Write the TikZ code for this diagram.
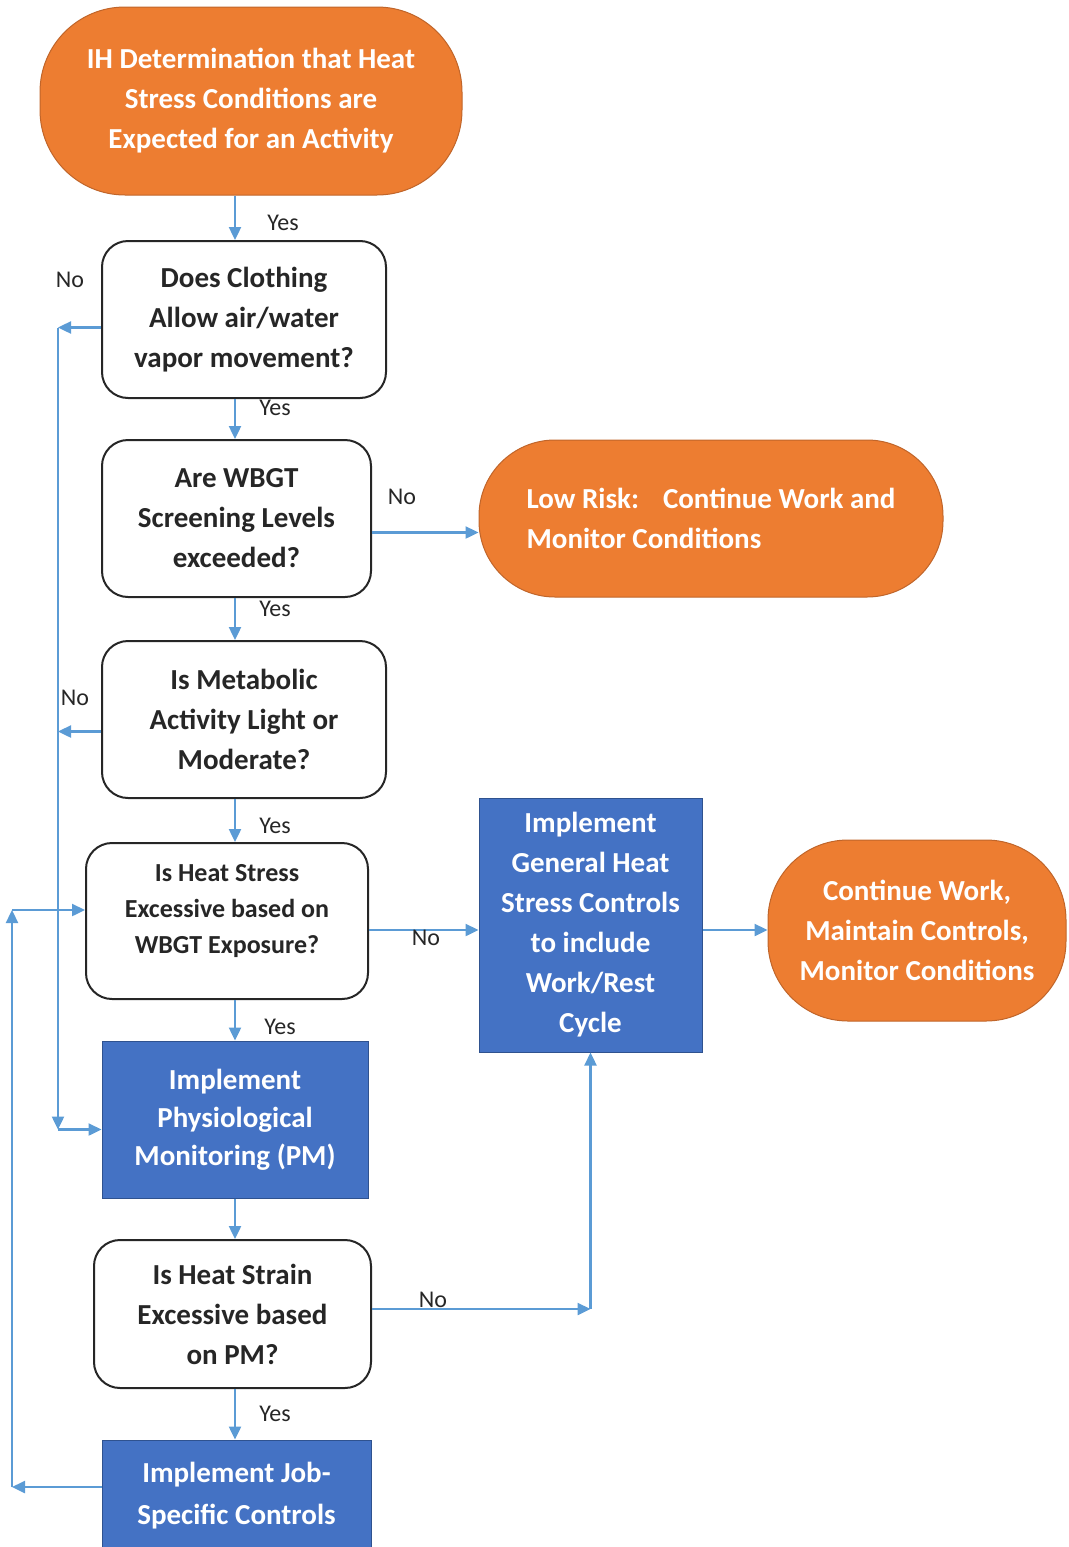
\documentclass[tikz,border=0pt]{standalone}
\usepackage{fontspec}
\setmainfont{Carlito}
\usetikzlibrary{positioning}
\usetikzlibrary{calc}
\usetikzlibrary{arrows.meta}

\definecolor{ihorange}{HTML}{ED7D31}
\definecolor{ihorangeline}{HTML}{C0652A}
\definecolor{ihblue}{HTML}{4472C4}
\definecolor{ihblueline}{HTML}{2F528F}
\definecolor{ihflow}{HTML}{5B9BD5}
\definecolor{ihtext}{HTML}{262626}

\tikzset{
    term/.style={draw=ihorangeline, fill=ihorange, text=white, line width=1pt, inner sep=0pt, align=center, font=\bfseries\fontsize{29}{40}\selectfont},
    decision/.style={draw=ihtext, fill=white, text=ihtext, line width=2pt, rounded corners=26pt, inner sep=0pt, align=center, font=\bfseries\fontsize{29}{40}\selectfont},
    process/.style={draw=ihblueline, fill=ihblue, text=white, line width=1pt, inner sep=0pt, align=center, font=\bfseries\fontsize{29}{40}\selectfont},
    flow/.style={draw=ihflow, line width=2.4pt, -{Triangle[length=13pt,width=12pt]}},
    lbl/.style={text=ihtext, inner sep=0pt, font=\fontsize{24}{28}\selectfont}
}

\begin{document}
\begin{tikzpicture}[x=1pt, y=-1pt]
    \useasboundingbox (0,0) rectangle (1068,1547);
    %Start
    \node[term, rounded corners=85pt, minimum width=422pt, minimum height=188pt] (start) at (251,101) {IH Determination that Heat\\Stress Conditions are\\Expected for an Activity};
    %Clothing
    \node[decision, minimum width=284pt, minimum height=157pt] (cloth) at (244,319.5) {Does Clothing\\Allow air/water\\vapor movement?};
    %WBGT screening
    \node[decision, minimum width=269pt, minimum height=157pt] (wbgt) at (236.5,518.5) {Are WBGT\\Screening Levels\\exceeded?};
    %Low risk
    \node[term, rounded corners=76pt, align=left, minimum width=464pt, minimum height=157pt] (lowrisk) at (711,518.5) {Low Risk:\hspace{24pt}Continue Work and\\Monitor Conditions};
    %Metabolic
    \node[decision, minimum width=284pt, minimum height=157pt] (meta) at (244,719.5) {Is Metabolic\\Activity Light or\\Moderate?};
    %Heat stress
    \node[decision, minimum width=282pt, minimum height=156pt, font=\bfseries\fontsize{26}{36}\selectfont] (heat) at (227,921) {Is Heat Stress\\Excessive based on\\WBGT Exposure?\rule[-24pt]{0pt}{24pt}};
    %General controls
    \node[process, minimum width=223pt, minimum height=254pt] (gen) at (590.5,925) {Implement\\General Heat\\Stress Controls\\to include\\Work/Rest\\Cycle};
    %Continue
    \node[term, rounded corners=80pt, minimum width=298pt, minimum height=181pt] (cont) at (917,930.5) {Continue Work,\\Maintain Controls,\\Monitor Conditions};
    %PM
    \node[process, minimum width=266pt, minimum height=157pt, font=\bfseries\fontsize{29}{38}\selectfont] (pm) at (235,1119.5) {Implement\\Physiological\\Monitoring (PM)};
    %Heat strain
    \node[decision, minimum width=277pt, minimum height=148pt] (strain) at (232.5,1314) {Is Heat Strain\\Excessive based\\on PM?};
    %Job controls
    \node[process, minimum width=269pt, minimum height=112pt, font=\bfseries\fontsize{29}{42}\selectfont] (job) at (236.5,1496) {Implement Job-\\Specific Controls};

    %guide lines
    \coordinate (spine) at (235,0);
    \coordinate (railA) at (58,0);
    \coordinate (railB) at (12,0);
    \coordinate (clothNo) at ($(cloth.west)+(0,8)$);
    \coordinate (metaNo) at ($(meta.west)+(0,12)$);
    \coordinate (pmIn) at ($(pm.west)+(0,10)$);
    \coordinate (jobOut) at ($(job.west)+(0,-9)$);
    \coordinate (heatIn) at ($(heat.west)+(0,-11)$);
    \coordinate (wbgtNo) at ($(wbgt.east)+(0,14)$);
    \coordinate (heatNo) at ($(heat.east)+(0,9)$);
    \coordinate (strainNo) at ($(strain.east)+(0,-5)$);

    %main spine
    \draw[flow] (spine |- start.south) -- (spine |- cloth.north) node[lbl, pos=.5, xshift=48pt, yshift=-5pt] {Yes};
    \draw[flow] (spine |- cloth.south) -- (spine |- wbgt.north) node[lbl, pos=0, xshift=40pt, yshift=-9pt] {Yes};
    \draw[flow] (spine |- wbgt.south) -- (spine |- meta.north) node[lbl, pos=0, xshift=40pt, yshift=-11pt] {Yes};
    \draw[flow] (spine |- meta.south) -- (spine |- heat.north) node[lbl, pos=.5, xshift=40pt, yshift=-5pt] {Yes};
    \draw[flow] (spine |- heat.south) -- (spine |- pm.north) node[lbl, pos=.5, xshift=45pt, yshift=-7pt] {Yes};
    \draw[flow] (spine |- pm.south) -- (spine |- strain.north);
    \draw[flow] (spine |- strain.south) -- (spine |- job.north) node[lbl, pos=.5, xshift=40pt] {Yes};

    %No branches to PM
    \draw[flow] (clothNo) -- (railA |- clothNo) node[lbl, pos=1, xshift=12pt, yshift=48pt] {No};
    \draw[flow] (metaNo) -- (railA |- metaNo) node[lbl, pos=1, xshift=17pt, yshift=34pt] {No};
    \draw[flow] (railA |- clothNo) -- (railA |- pmIn);
    \draw[flow] (railA |- pmIn) -- (pmIn);

    %Job controls - Heat stress
    \draw[flow] (jobOut) -- (railB |- jobOut);
    \draw[flow] (railB |- jobOut) -- (railB |- heatIn);
    \draw[flow] (railB |- heatIn) -- (heatIn);

    %right side
    \draw[flow] (wbgtNo) -- (lowrisk.west |- wbgtNo) node[lbl, pos=0, xshift=30pt, yshift=36pt] {No};
    \draw[flow] (heatNo) -- (gen.west |- heatNo) node[lbl, pos=0, xshift=57pt, yshift=-8pt] {No};
    \draw[flow] (gen.east |- heatNo) -- (cont.west |- heatNo);
    \draw[flow] (strainNo) -- (gen.south |- strainNo) node[lbl, pos=0, xshift=61pt, yshift=9pt] {No};
    \draw[flow] (gen.south |- strainNo) -- (gen.south);
\end{tikzpicture}
\end{document}
